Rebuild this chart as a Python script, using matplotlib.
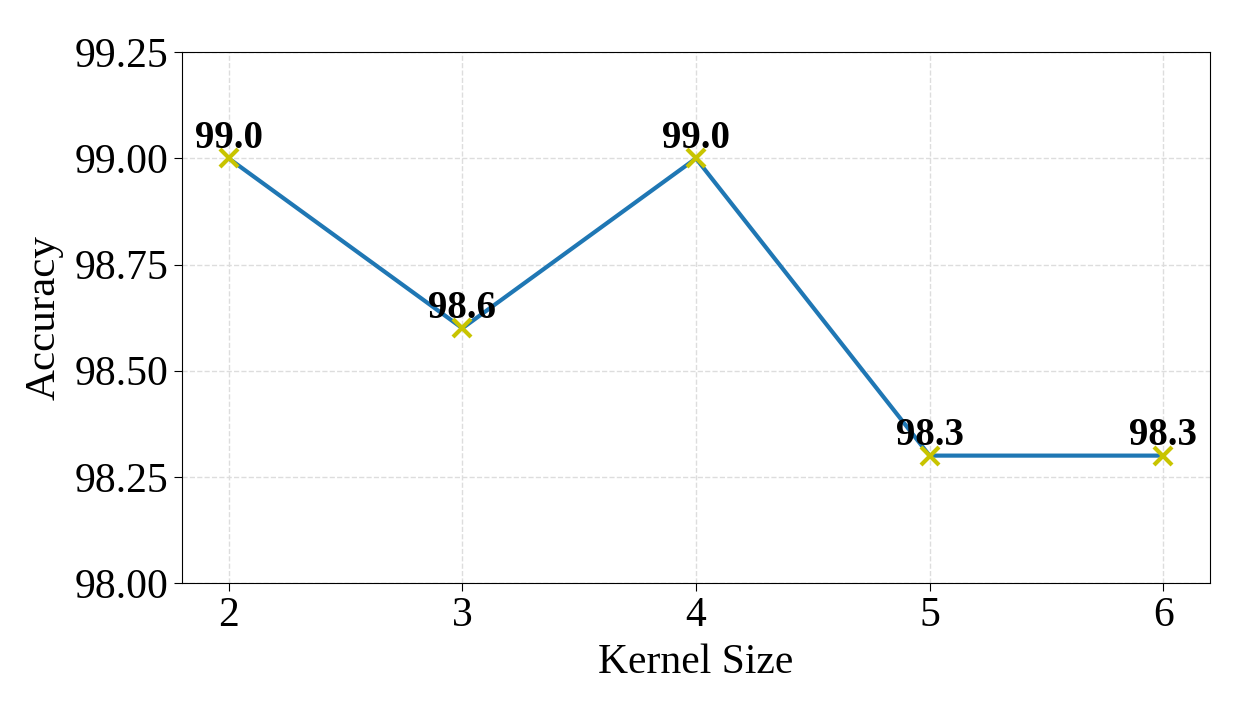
import matplotlib
matplotlib.use('Agg')
import matplotlib.pyplot as plt

# data
kernel_sizes = [2, 3, 4, 5, 6]
accuracy = [99.0, 98.6, 99.0, 98.3, 98.3]
y_ticks = [98.00, 98.25, 98.50, 98.75, 99.00, 99.25]

plt.rcParams['font.family'] = ['Liberation Serif', 'DejaVu Serif']

fig = plt.figure(figsize=(12.34, 7.03), dpi=100)
ax = fig.add_axes([0.1475, 0.1707, 0.833, 0.755])

ax.plot(kernel_sizes, accuracy, color='#1f77b4', linewidth=3, zorder=2)
ax.plot(kernel_sizes, accuracy, linestyle='none', marker='x', color='#c8c400',
        markersize=13, markeredgewidth=3, zorder=3)

for k, a in zip(kernel_sizes, accuracy):
    ax.text(k, a + 0.003, f'{a:.1f}', ha='center', va='bottom',
            fontsize=28, fontweight='bold', zorder=4)

ax.set_ylim(98.0, 99.25)
ax.set_yticks(y_ticks)
ax.set_yticklabels([f'{t:.2f}' for t in y_ticks])
ax.set_xticks(kernel_sizes)
ax.tick_params(axis='both', labelsize=30, length=6)
ax.set_xlabel('Kernel Size', fontsize=30, labelpad=6)
ax.set_ylabel('Accuracy', fontsize=31, labelpad=8)
ax.grid(True, linestyle='--', color='#dddddd', linewidth=1)
ax.set_axisbelow(True)

plt.savefig('out.png', dpi=100)
